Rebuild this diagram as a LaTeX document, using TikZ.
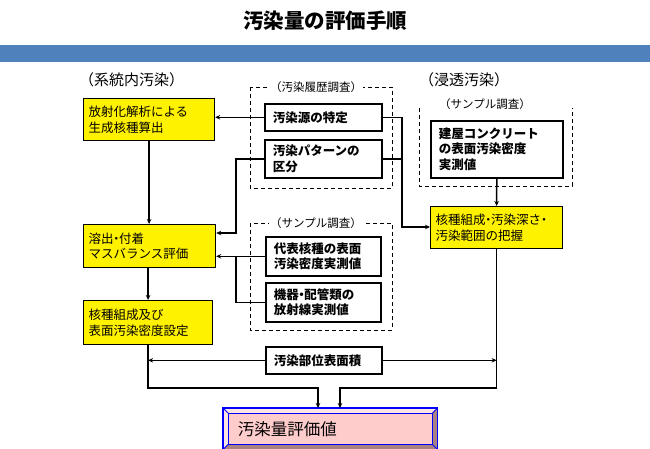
\documentclass[tikz,border=0pt]{standalone}
\usepackage{fontspec}
\setmainfont{Noto Sans CJK JP}
\usetikzlibrary{arrows.meta,calc}
\definecolor{barblue}{RGB}{79,129,189}
\definecolor{evalpink}{RGB}{255,204,204}
\definecolor{bevellight}{RGB}{255,228,228}
\definecolor{beveldark}{RGB}{170,130,130}
\newcommand{\nakaten}{\makebox[0.45em][c]{・}}
\tikzset{
  ybox/.style={draw, line width=1.2pt, fill=yellow, anchor=north west, align=left,
    inner xsep=5pt, inner ysep=2pt, font=\fontsize{12.5}{15.5}\selectfont},
  wbox/.style={draw, line width=1.6pt, fill=white, anchor=north west, align=left,
    inner xsep=8pt, inner ysep=2pt, font=\fontsize{12.5}{15.5}\selectfont\bfseries},
  grp/.style={draw, line width=0.8pt, dash pattern=on 4pt off 3pt},
  grplabel/.style={fill=white, inner sep=1pt, font=\fontsize{11.5}{13}\selectfont},
  head/.style={anchor=west, inner sep=0pt, font=\fontsize{15}{17}\selectfont},
  conn/.style={line width=1.5pt},
  arr/.style={conn, -{Stealth[length=5pt,width=4.5pt]}}
}
\begin{document}
\begin{tikzpicture}[x=1pt,y=-1pt]
\useasboundingbox (0,0) rectangle (650,449);
% title and bar
\node[font=\fontsize{20.5}{22}\selectfont\bfseries] (title) at (325,21) {汚染量の評価手順};
\fill[barblue] (0,45) rectangle (650,62);
% headings
\node[head] (kitonai) at (79,80) {（系統内汚染）};
\node[head] (shinto) at (419,80) {（浸透汚染）};
% dashed groups
\draw[grp] (250,87) rectangle (392,188);
\node[grplabel] (rirekilbl) at (316,87) {（汚染履歴調査）};
\draw[grp] (250,223) rectangle (392,330);
\node[grplabel] (sample1lbl) at (316,223) {（サンプル調査）};
\draw[grp] (419,108) -- (419,186) -- (572,186) -- (572,108);
\node[grplabel] (sample2lbl) at (485,104) {（サンプル調査）};
% left column
\node[ybox, minimum width=131pt, minimum height=42pt, text width=121pt] (kaiseki) at (83,98) {放射化解析による\\生成核種算出};
\node[ybox, minimum width=132pt, minimum height=43pt, text width=122pt] (youshutsu) at (83,224) {溶出\nakaten 付着\\マスバランス評価};
\node[ybox, minimum width=129pt, minimum height=44pt, text width=119pt] (settei) at (83,300) {核種組成及び\\表面汚染密度設定};
% middle column
\node[wbox, minimum width=117pt, minimum height=27pt, text width=101pt] (gen) at (264,103) {汚染源の特定};
\node[wbox, minimum width=117pt, minimum height=38pt, text width=101pt] (pattern) at (264,139) {汚染パターンの\\区分};
\node[wbox, minimum width=115pt, minimum height=39pt, text width=99pt] (daihyo) at (265,236) {代表核種の表面\\汚染密度実測値};
\node[wbox, minimum width=115pt, minimum height=39pt, text width=99pt] (kiki) at (265,282) {機器\nakaten 配管類の\\放射線実測値};
\node[wbox, minimum width=116pt, minimum height=27pt, text width=100pt] (menseki) at (265,346) {汚染部位表面積};
% right column
\node[wbox, minimum width=132pt, minimum height=57pt, text width=116pt] (tateya) at (430,120) {建屋コンクリート\\の表面汚染密度\\実測値};
\node[ybox, minimum width=132pt, minimum height=42pt, text width=122pt] (haaku) at (430,206) {核種組成\nakaten 汚染深さ\nakaten\\汚染範囲の把握};
% result
\node[draw=blue, line width=1.5pt, fill=evalpink, anchor=north west, minimum width=213pt,
  minimum height=40pt, text width=185pt, inner xsep=14pt, align=left,
  font=\fontsize{16.5}{18}\selectfont] (hyoka) at (223,408) {汚染量評価値};
\fill[bevellight] (hyoka.north west) -- (hyoka.north east) -- ++(-5,5) -- ($(hyoka.north west)+(5,5)$) -- cycle;
\fill[bevellight] (hyoka.north west) -- (hyoka.south west) -- ++(5,-5) -- ($(hyoka.north west)+(5,5)$) -- cycle;
\fill[beveldark] (hyoka.south east) -- (hyoka.north east) -- ++(-5,5) -- ($(hyoka.south east)+(-5,-5)$) -- cycle;
\fill[beveldark] (hyoka.south east) -- (hyoka.south west) -- ++(5,-5) -- ($(hyoka.south east)+(-5,-5)$) -- cycle;
\draw[blue, line width=1.5pt] (hyoka.north west) rectangle (hyoka.south east);
\draw[blue, line width=1pt] ($(hyoka.north west)+(5,5)$) rectangle ($(hyoka.south east)+(-5,-5)$);
\draw[blue, line width=1pt] (hyoka.north west) -- ++(5,5) (hyoka.north east) -- ++(-5,5)
  (hyoka.south west) -- ++(5,-5) (hyoka.south east) -- ++(-5,-5);
% junctions
\coordinate (j1) at (236,233);
\coordinate (j2) at (236,255.5);
\coordinate (j3) at (402,227);
\coordinate (b1) at (318,388);
\coordinate (b2) at (340,388);
% connectors
\draw[arr] (gen.west) -- (gen.west -| kaiseki.east);
\draw[arr] (pattern.west) -| (j1) -- (j1 -| youshutsu.east);
\draw[arr] (daihyo.west) -- (daihyo.west -| youshutsu.east);
\draw[conn] (kiki.west) -| (j2);
\draw[arr] (gen.east) -| (j3) -- (j3 -| haaku.west);
\draw[conn] (pattern.east) -- (pattern.east -| j3);
\draw[arr] (tateya.south) -- (haaku.north);
\draw[arr] (kaiseki.south) -- (kaiseki.south |- youshutsu.north);
\draw[arr] (youshutsu.south -| settei.north) -- (settei.north);
\draw[arr] (menseki.west) -- (menseki.west -| settei.south);
\draw[arr] (menseki.east) -- (menseki.east -| haaku.south);
\draw[arr] (settei.south) |- (b1) -- (b1 |- hyoka.north);
\draw[arr] (haaku.south) |- (b2) -- (b2 |- hyoka.north);
\end{tikzpicture}
\end{document}
